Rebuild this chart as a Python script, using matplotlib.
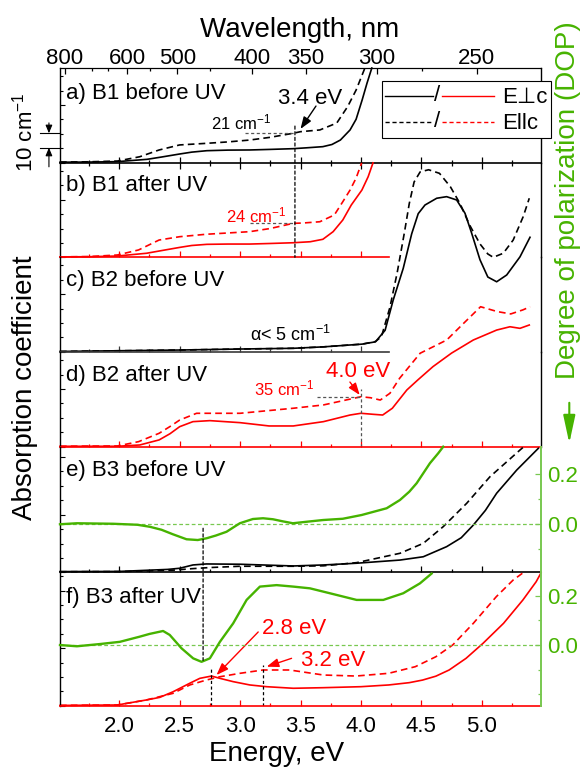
import numpy as np
import matplotlib
matplotlib.use('Agg')
import matplotlib.pyplot as plt
import matplotlib.transforms as mtransforms
from matplotlib.lines import Line2D
from matplotlib.text import Text
from matplotlib.legend_handler import HandlerBase
from matplotlib.patches import ConnectionPatch, FancyArrowPatch
from matplotlib.ticker import FixedLocator, MultipleLocator, FormatStrFormatter

plt.rcParams['font.family'] = ['Liberation Sans', 'DejaVu Sans']
plt.rcParams['mathtext.fontset'] = 'custom'
plt.rcParams['mathtext.rm'] = 'Liberation Sans'
plt.rcParams['mathtext.it'] = 'Liberation Sans:italic'
plt.rcParams['mathtext.default'] = 'regular'

# ---- data (energy in eV, absorption in cm^-1, DOP unitless) ----
A_SOL_E = [1.51, 1.75, 1.985, 2.23, 2.35, 2.50, 2.60, 2.725, 2.90, 3.08, 3.25, 3.44, 3.55, 3.685, 3.76, 3.83, 3.91, 3.96, 4.01, 4.05, 4.09]
A_SOL_V = [0.2, 0.3, 0.6, 2.2, 3.8, 5.9, 7.2, 8.2, 8.6, 8.7, 9.1, 9.6, 10.2, 11.0, 12.5, 15.6, 22.6, 30.0, 43.4, 55.0, 65.6]
A_DSH_E = [1.51, 1.75, 1.985, 2.17, 2.33, 2.50, 2.72, 2.90, 3.08, 3.25, 3.44, 3.50, 3.66, 3.80, 3.89, 3.96, 4.03]
A_DSH_V = [0.3, 0.5, 1.0, 4.0, 8.7, 12.2, 13.3, 14.3, 15.6, 17.5, 20.3, 21.4, 22.6, 27.4, 38.8, 50.3, 65.0]

B_SOL_E = [1.51, 1.75, 1.985, 2.226, 2.36, 2.502, 2.60, 2.725, 2.90, 3.081, 3.25, 3.437, 3.58, 3.685, 3.77, 3.85, 3.92, 4.008, 4.06, 4.10]
B_SOL_V = [0.3, 0.4, 0.9, 2.8, 4.8, 6.9, 8.2, 9.0, 9.2, 9.2, 9.6, 10.1, 10.8, 12.5, 17.8, 25.9, 36.3, 46.7, 56.0, 65.6]
B_DSH_E = [1.51, 1.75, 1.985, 2.16, 2.33, 2.50, 2.72, 2.90, 3.08, 3.25, 3.44, 3.52, 3.66, 3.78, 3.85, 3.91, 3.96, 4.006]
B_DSH_V = [0.3, 0.5, 1.6, 5.1, 12.0, 14.3, 16.0, 16.9, 17.8, 20.0, 23.6, 23.8, 24.7, 29.4, 38.6, 46.7, 55.0, 65.6]

C_SOL_E = [1.51, 2.0, 2.5, 3.0, 3.44, 3.69, 4.01, 4.12, 4.20, 4.267, 4.35, 4.42, 4.474, 4.53, 4.627, 4.709, 4.792, 4.861, 4.916, 4.985, 5.05, 5.123, 5.206, 5.316, 5.399]
C_SOL_V = [0.3, 0.8, 1.3, 2.0, 2.5, 3.5, 5.4, 7.0, 15.0, 36.0, 58.0, 82.0, 96.0, 102.0, 106.7, 107.8, 105.5, 96.3, 82.5, 64.0, 52.0, 48.7, 53.4, 66.0, 79.6]
C_DSH_E = [1.51, 2.0, 2.5, 3.0, 3.44, 3.69, 4.01, 4.12, 4.17, 4.24, 4.30, 4.36, 4.40, 4.44, 4.49, 4.56, 4.65, 4.74, 4.82, 4.90, 4.985, 5.05, 5.095, 5.178, 5.26, 5.343, 5.393]
C_DSH_V = [0.3, 0.8, 1.3, 2.0, 2.5, 3.5, 5.4, 7.2, 10.6, 31.0, 55.0, 83.0, 103.0, 118.0, 125.0, 126.5, 124.0, 114.7, 103.0, 88.0, 75.0, 68.0, 65.7, 68.5, 77.7, 94.0, 106.7]

D_SOL_E = [1.51, 1.985, 2.17, 2.33, 2.42, 2.50, 2.61, 2.75, 3.0, 3.24, 3.44, 3.69, 3.91, 4.0, 4.10, 4.18, 4.26, 4.38, 4.47, 4.596, 4.75, 4.93, 5.123, 5.233, 5.316, 5.393]
D_SOL_V = [0.3, 0.3, 1.2, 4.7, 9.0, 13.9, 17.4, 18.1, 16.7, 14.4, 14.4, 17.4, 22.0, 23.2, 22.5, 22.0, 26.7, 39.4, 46.3, 55.6, 65.0, 74.1, 81.0, 83.3, 82.2, 84.5]
D_DSH_E = [1.51, 1.985, 2.16, 2.33, 2.42, 2.50, 2.64, 3.0, 3.44, 3.69, 4.0, 4.08, 4.16, 4.24, 4.32, 4.49, 4.71, 4.85, 4.99, 5.13, 5.24, 5.34, 5.40]
D_DSH_V = [0.3, 0.5, 3.5, 9.3, 14.0, 18.5, 23.2, 23.2, 26.7, 29.0, 34.7, 34.0, 32.4, 37.1, 47.5, 64.9, 74.1, 85.7, 97.2, 93.8, 92.2, 95.0, 97.2]

E_SOL_E = [1.51, 2.0, 2.40, 2.50, 2.61, 2.72, 3.0, 3.44, 3.69, 3.964, 4.323, 4.516, 4.709, 4.83, 4.93, 5.03, 5.123, 5.289, 5.468]
E_SOL_V = [0.5, 0.6, 2.0, 2.8, 5.1, 5.8, 5.6, 4.4, 5.1, 6.3, 8.5, 10.8, 17.8, 24.0, 32.8, 43.0, 54.9, 71.0, 86.1]
E_DSH_E = [1.51, 2.0, 2.45, 2.60, 2.75, 3.0, 3.44, 3.69, 3.964, 4.323, 4.516, 4.681, 4.875, 5.068, 5.316, 5.345]
E_DSH_V = [0.4, 0.5, 1.5, 2.5, 3.3, 4.2, 4.2, 4.5, 6.7, 13.2, 20.1, 31.7, 47.9, 66.4, 84.9, 87.0]
E_DOP_E = [1.51, 1.65, 1.80, 1.95, 2.05, 2.15, 2.253, 2.35, 2.444, 2.557, 2.65, 2.723, 2.80, 2.888, 2.998, 3.106, 3.19, 3.272, 3.35, 3.437, 3.55, 3.688, 3.85, 4.006, 4.213, 4.323, 4.40, 4.461, 4.571, 4.640, 4.681]
E_DOP_V = [0.0, 0.004, 0.003, 0.002, 0.0, -0.002, -0.01, -0.022, -0.04, -0.06, -0.063, -0.056, -0.045, -0.03, 0.004, 0.021, 0.024, 0.02, 0.012, 0.004, 0.01, 0.017, 0.022, 0.037, 0.064, 0.097, 0.13, 0.164, 0.244, 0.284, 0.31]

F_SOL_E = [1.51, 1.985, 2.226, 2.336, 2.446, 2.584, 2.667, 2.764, 2.833, 2.943, 3.081, 3.219, 3.44, 3.685, 4.0, 4.23, 4.40, 4.51, 4.62, 4.73, 4.87, 5.01, 5.18, 5.34, 5.45, 5.49]
F_SOL_V = [0.2, 0.5, 4.0, 5.8, 9.7, 15.6, 19.0, 20.6, 19.0, 16.7, 14.4, 13.2, 12.1, 12.5, 13.2, 14.4, 16.0, 17.8, 20.5, 24.8, 32.9, 43.3, 57.2, 73.4, 86.1, 92.2]
F_DSH_E = [1.51, 1.985, 2.226, 2.336, 2.446, 2.584, 2.72, 2.833, 3.0, 3.19, 3.41, 3.69, 3.96, 4.23, 4.45, 4.62, 4.76, 4.93, 5.12, 5.26, 5.34]
F_DSH_V = [0.2, 0.5, 4.0, 6.3, 8.6, 14.4, 17.8, 20.1, 22.5, 24.8, 24.8, 21.3, 20.6, 22.5, 27.1, 34.0, 42.2, 57.2, 75.7, 87.3, 92.2]
F_DOP_E = [1.51, 1.65, 1.839, 2.005, 2.17, 2.25, 2.363, 2.418, 2.515, 2.612, 2.681, 2.750, 2.833, 2.943, 3.054, 3.164, 3.302, 3.440, 3.578, 3.743, 3.964, 4.185, 4.350, 4.488, 4.585]
F_DOP_V = [0.0, -0.005, 0.004, 0.013, 0.034, 0.045, 0.057, 0.041, -0.013, -0.054, -0.068, -0.054, 0.013, 0.088, 0.183, 0.237, 0.243, 0.237, 0.23, 0.21, 0.183, 0.183, 0.21, 0.25, 0.29]

PANEL_LABELS = ['a) B1 before UV', 'b) B1 after UV', 'c) B2 before UV',
                'd) B2 after UV', 'e) B3 before UV', 'f) B3 after UV']
WL_MAJOR = [800, 600, 500, 400, 350, 300, 250]
WL_MINOR = [700, 650, 550, 450, 275]
HC = 1239.84

GREEN = '#46b300'
GREEN_AX = '#78c850'
DASH = (0, (4, 2.5))
GUIDE = (0, (2.5, 2))


def e2w(e):
    e = np.asarray(e, dtype=float)
    with np.errstate(divide='ignore'):
        return HC / e


class SlashHandler(HandlerBase):
    def __init__(self, style):
        super().__init__()
        self.style = style

    def create_artists(self, legend, orig_handle, xdescent, ydescent,
                       width, height, fontsize, trans):
        y = height / 2.0 - ydescent
        x0 = -xdescent
        left = Line2D([x0, x0 + 0.44 * width], [y, y], color='black', ls=self.style, lw=1.0)
        slash = Text(x0 + 0.48 * width, y, '/', ha='center', va='center', fontsize=fontsize)
        right = Line2D([x0 + 0.525 * width, x0 + width], [y, y], color='red', ls=self.style, lw=1.0)
        for art in (left, slash, right):
            art.set_transform(trans)
        return [left, slash, right]


# ---- layout (pixels of the 585x771 canvas) ----
W, H = 585.0, 771.0
X0, X1 = 60.0, 541.0
EDGES = [68.0, 162.5, 257.3, 351.9, 446.7, 572.3, 705.7]
PXU = 1.44   # pixels per cm^-1
DOP_LIM = {4: (-0.192, 0.31), 5: (-0.246, 0.295)}
BOTTOM_COL = ['black', 'red', '#3a3a3a', 'red', 'black', 'red']
LABEL_DY = [25, 22.5, 23, 23.5, 23.5, 25.5]

fig = plt.figure(figsize=(5.85, 7.71), dpi=100)
axes, twins = [], {}
for i in range(6):
    top, bot = EDGES[i], EDGES[i + 1]
    ax = fig.add_axes([X0 / W, 1 - bot / H, (X1 - X0) / W, (bot - top) / H])
    ax.set_facecolor('none')
    ax.set_xlim(1.51, 5.49)
    ax.set_ylim(0, (bot - top) / PXU)
    col = BOTTOM_COL[i]
    ax.spines['top'].set_visible(i == 0)
    ax.spines['bottom'].set_color(col)
    ax.spines['bottom'].set_linewidth(1.2)
    ax.spines['left'].set_linewidth(1.0)
    ax.spines['right'].set_linewidth(1.0)
    if i in (1, 2):
        ax.spines['bottom'].set_bounds(1.51, 4.23)
        ax.xaxis.set_major_locator(FixedLocator([2.0, 2.5, 3.0, 3.5, 4.0]))
        ax.xaxis.set_minor_locator(FixedLocator([1.75, 2.25, 2.75, 3.25, 3.75]))
    else:
        ax.xaxis.set_major_locator(MultipleLocator(0.5))
        ax.xaxis.set_minor_locator(MultipleLocator(0.25))
    ax.xaxis.set_major_formatter(FormatStrFormatter('%.1f'))
    tdir = 'inout' if i == 0 else 'in'
    ax.tick_params(axis='x', which='both', direction=tdir, color=col, top=False,
                   labelbottom=(i == 5), labelsize=16, pad=7.5, width=0.9)
    ax.tick_params(axis='x', which='major', length=8.6 if i == 0 else 4.3)
    ax.tick_params(axis='x', which='minor', length=4.3 if i == 0 else 2.5)
    ax.yaxis.set_major_locator(MultipleLocator(40))
    ax.yaxis.set_minor_locator(MultipleLocator(10))
    ax.tick_params(axis='y', which='both', direction='in', labelleft=False,
                   right=False, width=0.8)
    ax.tick_params(axis='y', which='major', length=3.6)
    ax.tick_params(axis='y', which='minor', length=2.2)
    ax.annotate(PANEL_LABELS[i], xy=(0, 1), xycoords='axes fraction',
                xytext=(6, -LABEL_DY[i]), textcoords='offset pixels',
                ha='left', va='center', fontsize=16)
    if i >= 4:
        ax.spines['right'].set_visible(False)
        tw = ax.twinx()
        tw.set_ylim(*DOP_LIM[i])
        for s in ('left', 'top', 'bottom'):
            tw.spines[s].set_visible(False)
        tw.spines['right'].set_color(GREEN_AX)
        tw.spines['right'].set_linewidth(1.4)
        tw.yaxis.set_major_locator(FixedLocator([0.0, 0.2]))
        tw.yaxis.set_minor_locator(FixedLocator([-0.2, -0.1, 0.1]))
        tw.yaxis.set_major_formatter(FormatStrFormatter('%.1f'))
        tw.tick_params(axis='y', which='both', direction='in', color=GREEN_AX,
                       labelcolor=GREEN, labelsize=16, pad=4.5, width=0.9)
        tw.tick_params(axis='y', which='major', length=4.0)
        tw.tick_params(axis='y', which='minor', length=2.5)
        tw.axhline(0.0, color=GREEN_AX, lw=0.9, ls=(0, (3, 2)))
        twins[i] = tw
    axes.append(ax)

ax_a, ax_b, ax_c, ax_d, ax_e, ax_f = axes
tw_e, tw_f = twins[4], twins[5]

# ---- curves ----
kw = dict(lw=1.2, clip_on=False)
la_sol, = ax_a.plot(A_SOL_E, A_SOL_V, color='black', **kw)
la_dsh, = ax_a.plot(A_DSH_E, A_DSH_V, color='black', ls=DASH, **kw)
ax_b.plot(B_SOL_E, B_SOL_V, color='red', **kw)
ax_b.plot(B_DSH_E, B_DSH_V, color='red', ls=DASH, **kw)
ax_c.plot(C_SOL_E, C_SOL_V, color='black', **kw)
ax_c.plot(C_DSH_E, C_DSH_V, color='black', ls=DASH, **kw)
ax_d.plot(D_SOL_E, D_SOL_V, color='red', **kw)
ax_d.plot(D_DSH_E, D_DSH_V, color='red', ls=DASH, **kw)
ax_e.plot(E_SOL_E, E_SOL_V, color='black', **kw)
ax_e.plot(E_DSH_E, E_DSH_V, color='black', ls=DASH, **kw)
tw_e.plot(E_DOP_E, E_DOP_V, color=GREEN, lw=1.7, clip_on=False)
ax_f.plot(F_SOL_E, F_SOL_V, color='red', **kw)
ax_f.plot(F_DSH_E, F_DSH_V, color='red', ls=DASH, **kw)
tw_f.plot(F_DOP_E, F_DOP_V, color=GREEN, lw=1.7, clip_on=False)

# ---- top wavelength axis ----
sec = ax_a.secondary_xaxis('top', functions=(e2w, e2w))
sec.set_xticks(WL_MAJOR)
sec.xaxis.set_minor_locator(FixedLocator(WL_MINOR))
sec.tick_params(which='both', direction='in', labelsize=16, pad=-1.0, width=0.9)
sec.tick_params(which='major', length=4.3)
sec.tick_params(which='minor', length=2.5)
sec.set_xlabel('Wavelength, nm', fontsize=20)
sec.xaxis.set_label_coords(0.499, 1.332, transform=ax_a.transAxes)

ax_f.set_xlabel('Energy, eV', fontsize=20)
ax_f.xaxis.set_label_coords(0.45, -0.268)

fig.text(25 / W, 1 - 387.5 / H, 'Absorption coefficient', rotation=90,
         ha='center', va='center', fontsize=20)
fig.text(568 / W, 1 - 200.5 / H, 'Degree of polarization (DOP)', rotation=90,
         ha='center', va='center', fontsize=20, color=GREEN)
fig.add_artist(FancyArrowPatch(
    (569.3 / W, 1 - 400 / H), (569.3 / W, 1 - 446 / H), transform=fig.transFigure,
    arrowstyle='-|>,head_length=1.3,head_width=0.28', mutation_scale=13,
    color=GREEN, lw=1.5))

# ---- 10 cm-1 scale bar ----
tr_a = mtransforms.blended_transform_factory(ax_a.transAxes, ax_a.transData)
for lev in (10.3, 20.3):
    ax_a.plot([-0.042, 0.0], [lev, lev], color='black', lw=0.8, transform=tr_a, clip_on=False)
arr = dict(arrowstyle='-|>,head_length=0.6,head_width=0.25', color='black', lw=0.8,
           mutation_scale=8, shrinkA=0, shrinkB=0)
ax_a.annotate('', xy=(-0.023, 20.3), xytext=(-0.023, 27.5), xycoords=tr_a, textcoords=tr_a, arrowprops=arr)
ax_a.annotate('', xy=(-0.023, 10.3), xytext=(-0.023, -3.0), xycoords=tr_a, textcoords=tr_a, arrowprops=arr)
ax_a.text(-0.073, 20.8, '10 cm$^{-1}$', transform=tr_a, rotation=90, ha='center',
          va='center', fontsize=16)

# ---- guide lines ----
gk = dict(color='#555555', lw=0.9, ls=GUIDE)
vk = dict(color='black', lw=0.9, ls=GUIDE)
ax_a.hlines(20.3, 3.04, 3.454, **gk)
ax_b.hlines(23.6, 3.08, 3.454, **gk)
ax_d.hlines(34.7, 3.64, 4.0, **gk)
fig.add_artist(ConnectionPatch(xyA=(3.454, 25.3), coordsA=ax_a.transData,
                               xyB=(3.454, 0.0), coordsB=ax_b.transData, **vk))
ax_d.vlines(4.0, 0.0, 40.0, **gk)
fig.add_artist(ConnectionPatch(xyA=(2.694, -0.016), coordsA=tw_e.transData,
                               xyB=(2.694, -0.062), coordsB=tw_f.transData, **vk))
ax_f.vlines(2.758, 0.0, 26.0, **vk)
ax_f.vlines(3.19, 0.0, 28.3, **vk)

# ---- annotations ----
arr_k = dict(arrowstyle='-|>,head_length=0.6,head_width=0.22', color='black', lw=1.0,
             mutation_scale=12, shrinkA=0, shrinkB=0)
arr_r = dict(arr_k, color='red')
ax_a.text(3.578, 44.5, '3.4 eV', ha='center', va='center', fontsize=16)
ax_a.annotate('', xy=(3.50, 23.3), xytext=(3.628, 39.2), arrowprops=arr_k)
ax_a.text(3.01, 28.1, '21 cm$^{-1}$', ha='center', va='center', fontsize=12)
ax_b.text(3.13, 29.4, '24 cm$^{-1}$', ha='center', va='center', fontsize=12, color='red')
ax_c.text(3.42, 11.7, 'α< 5 cm$^{-1}$', ha='center', va='center', fontsize=13)
ax_d.text(3.363, 40.6, '35 cm$^{-1}$', ha='center', va='center', fontsize=12, color='red')
ax_d.text(3.975, 52.1, '4.0 eV', ha='center', va='center', fontsize=16, color='red')
ax_d.annotate('', xy=(3.99, 35.9), xytext=(3.909, 44.9), arrowprops=arr_r)
ax_f.text(3.445, 53.5, '2.8 eV', ha='center', va='center', fontsize=16, color='red')
ax_f.annotate('', xy=(2.805, 21.3), xytext=(3.15, 51.2), arrowprops=arr_r)
ax_f.text(3.77, 31.7, '3.2 eV', ha='center', va='center', fontsize=16, color='red')
ax_f.annotate('', xy=(3.22, 27.1), xytext=(3.426, 32.9), arrowprops=arr_r)

# ---- legend ----
leg = ax_a.legend([la_sol, la_dsh], ['E⊥c', 'Ellc'],
                  handler_map={la_sol: SlashHandler('-'), la_dsh: SlashHandler((0, (3, 2)))},
                  loc='upper left', bbox_to_anchor=(381.7 / W, 1 - 81 / H),
                  bbox_transform=fig.transFigure, borderaxespad=0, fontsize=16,
                  handlelength=4.9, handletextpad=0.38, handleheight=1.2,
                  borderpad=0.15, labelspacing=0.1, fancybox=False,
                  edgecolor='black', framealpha=1)
leg.get_frame().set_linewidth(0.8)
leg.set_zorder(10)

fig.savefig('out.png', dpi=100)
